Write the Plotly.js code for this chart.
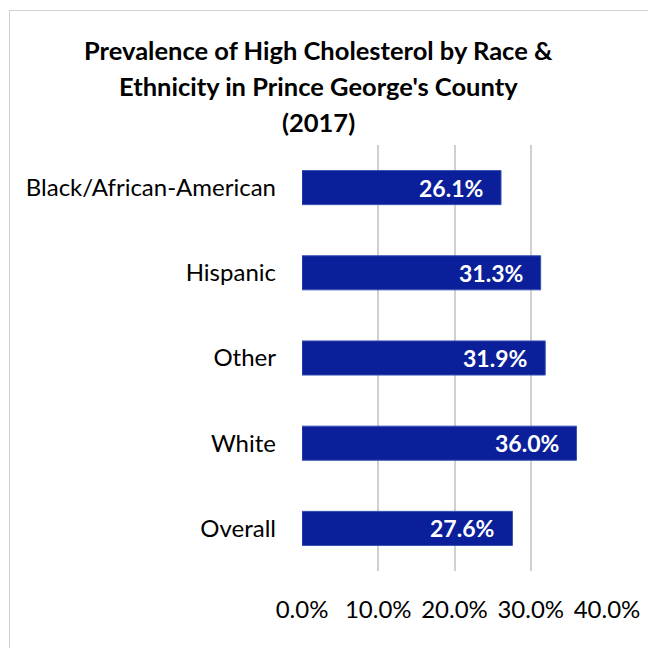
<!DOCTYPE html>
<html>
<head>
<meta charset="utf-8">
<script src="https://cdn.plot.ly/plotly-3.0.1.min.js"></script>
<style>
  html, body { margin: 0; padding: 0; width: 648px; height: 648px; overflow: hidden; background: #fff; }
  #chart { position: absolute; left: 0; top: 0; width: 648px; height: 648px; }
  #frame { position: absolute; left: 9px; top: 10px; width: 700px; height: 700px; border: 1px solid #d0d0d0; pointer-events: none; }
</style>
</head>
<body>
<div id="chart"></div>
<div id="frame"></div>
<script>
const categories = ["Black/African-American", "Hispanic", "Other", "White", "Overall"];
const values = [26.1, 31.3, 31.9, 36.0, 27.6];
const tickValues = [0, 10, 20, 30, 40];
const tickLabels = ["0.0%", "10.0%", "20.0%", "30.0%", "40.0%"];
const titleLines = ["Prevalence of High Cholesterol by Race &", "Ethnicity in Prince George's County", "(2017)"];

const font = "Lato, Carlito, Calibri, 'Open Sans', sans-serif";

const W = 648, H = 648;
const M = { l: 302, r: 41, t: 145, b: 77 };
const plotW = W - M.l - M.r, plotH = H - M.t - M.b;
const titleCenters = [50, 86, 122];

const annotations = [];
titleLines.forEach((line, i) => {
  annotations.push({
    xref: "paper", yref: "paper",
    x: (318.5 - M.l) / plotW,
    y: (H - M.b - titleCenters[i]) / plotH,
    xanchor: "center", yanchor: "middle",
    text: "<b>" + line + "</b>",
    showarrow: false,
    font: { family: font, size: 25.5, color: "#000000" }
  });
});
categories.forEach((c, i) => {
  annotations.push({
    xref: "x", yref: "y",
    x: values[i], y: c,
    xanchor: "right", yanchor: "middle",
    xshift: -16,
    text: "<b>" + values[i].toFixed(1) + "%</b>",
    showarrow: false,
    font: { family: font, size: 23, color: "#ffffff" }
  });
});

Plotly.newPlot("chart", [{
  type: "bar",
  orientation: "h",
  y: categories,
  x: values,
  marker: { color: "#0a1f99", line: { color: "#3a50b0", width: 1 } },
  hoverinfo: "none"
}], {
  width: W,
  height: H,
  margin: M,
  paper_bgcolor: "#ffffff",
  plot_bgcolor: "#ffffff",
  bargap: 0.6,
  showlegend: false,
  annotations: annotations,
  xaxis: {
    range: [0, 40],
    tickvals: tickValues,
    ticktext: tickLabels,
    showgrid: true,
    gridcolor: "#d0d0d0",
    gridwidth: 2,
    zeroline: false,
    showline: false,
    ticks: "",
    ticklabelstandoff: 22,
    tickfont: { family: font, size: 24, color: "#000000" },
    fixedrange: true
  },
  yaxis: {
    type: "category",
    categoryorder: "array",
    categoryarray: categories,
    autorange: "reversed",
    showgrid: false,
    zeroline: false,
    showline: false,
    ticks: "",
    ticklabelstandoff: 25,
    tickfont: { family: font, size: 24, color: "#000000" },
    fixedrange: true
  }
}, { displayModeBar: false, staticPlot: true });
</script>
</body>
</html>
